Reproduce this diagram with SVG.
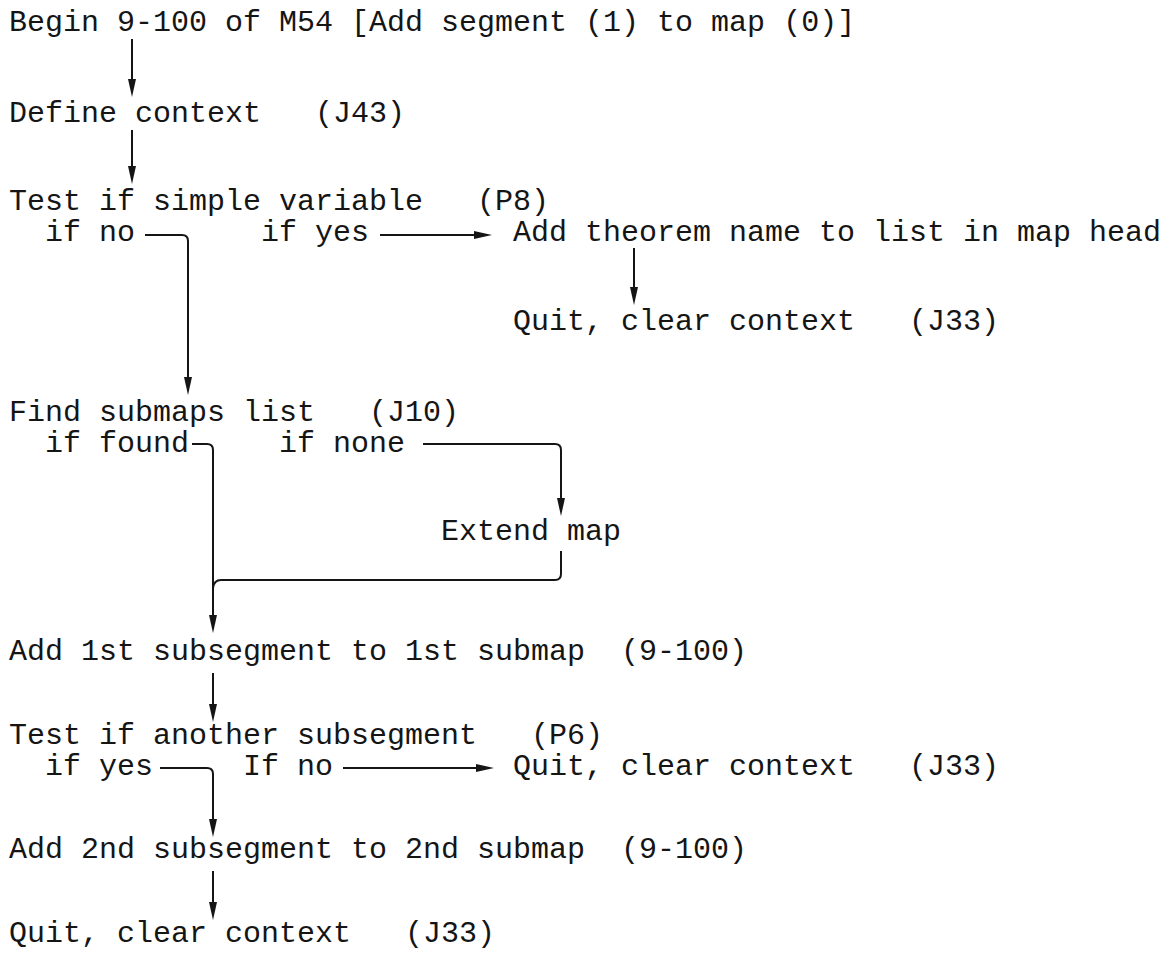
<svg xmlns="http://www.w3.org/2000/svg" width="1174" height="973" viewBox="0 0 1174 973">
  <defs>
    <style>
      text { font-family: "Liberation Mono", "DejaVu Sans Mono", monospace; font-size: 30px; fill: #151515; }
      .wire { fill: none; stroke: #151515; stroke-width: 2; stroke-linejoin: round; }
      .flow { marker-end: url(#head); }
    </style>
    <marker id="head" viewBox="0 0 18 8" refX="6" refY="4" markerWidth="18" markerHeight="8" markerUnits="userSpaceOnUse" orient="auto">
      <path d="M0,0 L18,4 L0,8 Z" fill="#151515"/>
    </marker>
  </defs>
  <rect width="1174" height="973" fill="#ffffff"/>

  <!-- steps, typed on an 18px character grid -->
  <g id="begin">
    <text x="9" y="31">Begin 9-100 of M54 [Add segment (1) to map (0)]</text>
  </g>
  <g id="define-context">
    <text x="9" y="122">Define context</text>
    <text x="315" y="122">(J43)</text>
  </g>
  <g id="test-simple-variable">
    <text x="9" y="210">Test if simple variable</text>
    <text x="477" y="210">(P8)</text>
    <text x="45" y="241">if no</text>
    <text x="261" y="241">if yes</text>
  </g>
  <g id="add-theorem-name">
    <text x="513" y="241">Add theorem name to list in map head</text>
  </g>
  <g id="quit-after-theorem">
    <text x="513" y="330">Quit, clear context</text>
    <text x="909" y="330">(J33)</text>
  </g>
  <g id="find-submaps">
    <text x="9" y="421">Find submaps list</text>
    <text x="369" y="421">(J10)</text>
    <text x="45" y="452">if found</text>
    <text x="279" y="452">if none</text>
  </g>
  <g id="extend-map">
    <text x="441" y="540">Extend map</text>
  </g>
  <g id="add-first-subsegment">
    <text x="9" y="660">Add 1st subsegment to 1st submap</text>
    <text x="621" y="660">(9-100)</text>
  </g>
  <g id="test-another-subsegment">
    <text x="9" y="744">Test if another subsegment</text>
    <text x="531" y="744">(P6)</text>
    <text x="45" y="775">if yes</text>
    <text x="243" y="775">If no</text>
  </g>
  <g id="quit-no-more">
    <text x="513" y="775">Quit, clear context</text>
    <text x="909" y="775">(J33)</text>
  </g>
  <g id="add-second-subsegment">
    <text x="9" y="858">Add 2nd subsegment to 2nd submap</text>
    <text x="621" y="858">(9-100)</text>
  </g>
  <g id="quit-final">
    <text x="9" y="942">Quit, clear context</text>
    <text x="405" y="942">(J33)</text>
  </g>

  <!-- connectors -->
  <g id="connectors" class="wire">
    <path class="flow" d="M132,39 V85"/>
    <path class="flow" d="M132,130 V172"/>
    <path class="flow" d="M145,235 H182 Q188,235 188,241 V383"/>
    <path class="flow" d="M380,235 H480"/>
    <path class="flow" d="M634,248 V293"/>
    <path class="flow" d="M192,444 H207 Q213,444 213,450 V621"/>
    <path class="flow" d="M423,444 H555 Q561,444 561,450 V504"/>
    <path d="M561,551 V574 Q561,580 555,580 H221 Q214,580 213,588"/>
    <path class="flow" d="M213,673 V710"/>
    <path class="flow" d="M160,768 H207 Q213,768 213,774 V825"/>
    <path class="flow" d="M343,768 H482"/>
    <path class="flow" d="M213,871 V908"/>
  </g>
</svg>
